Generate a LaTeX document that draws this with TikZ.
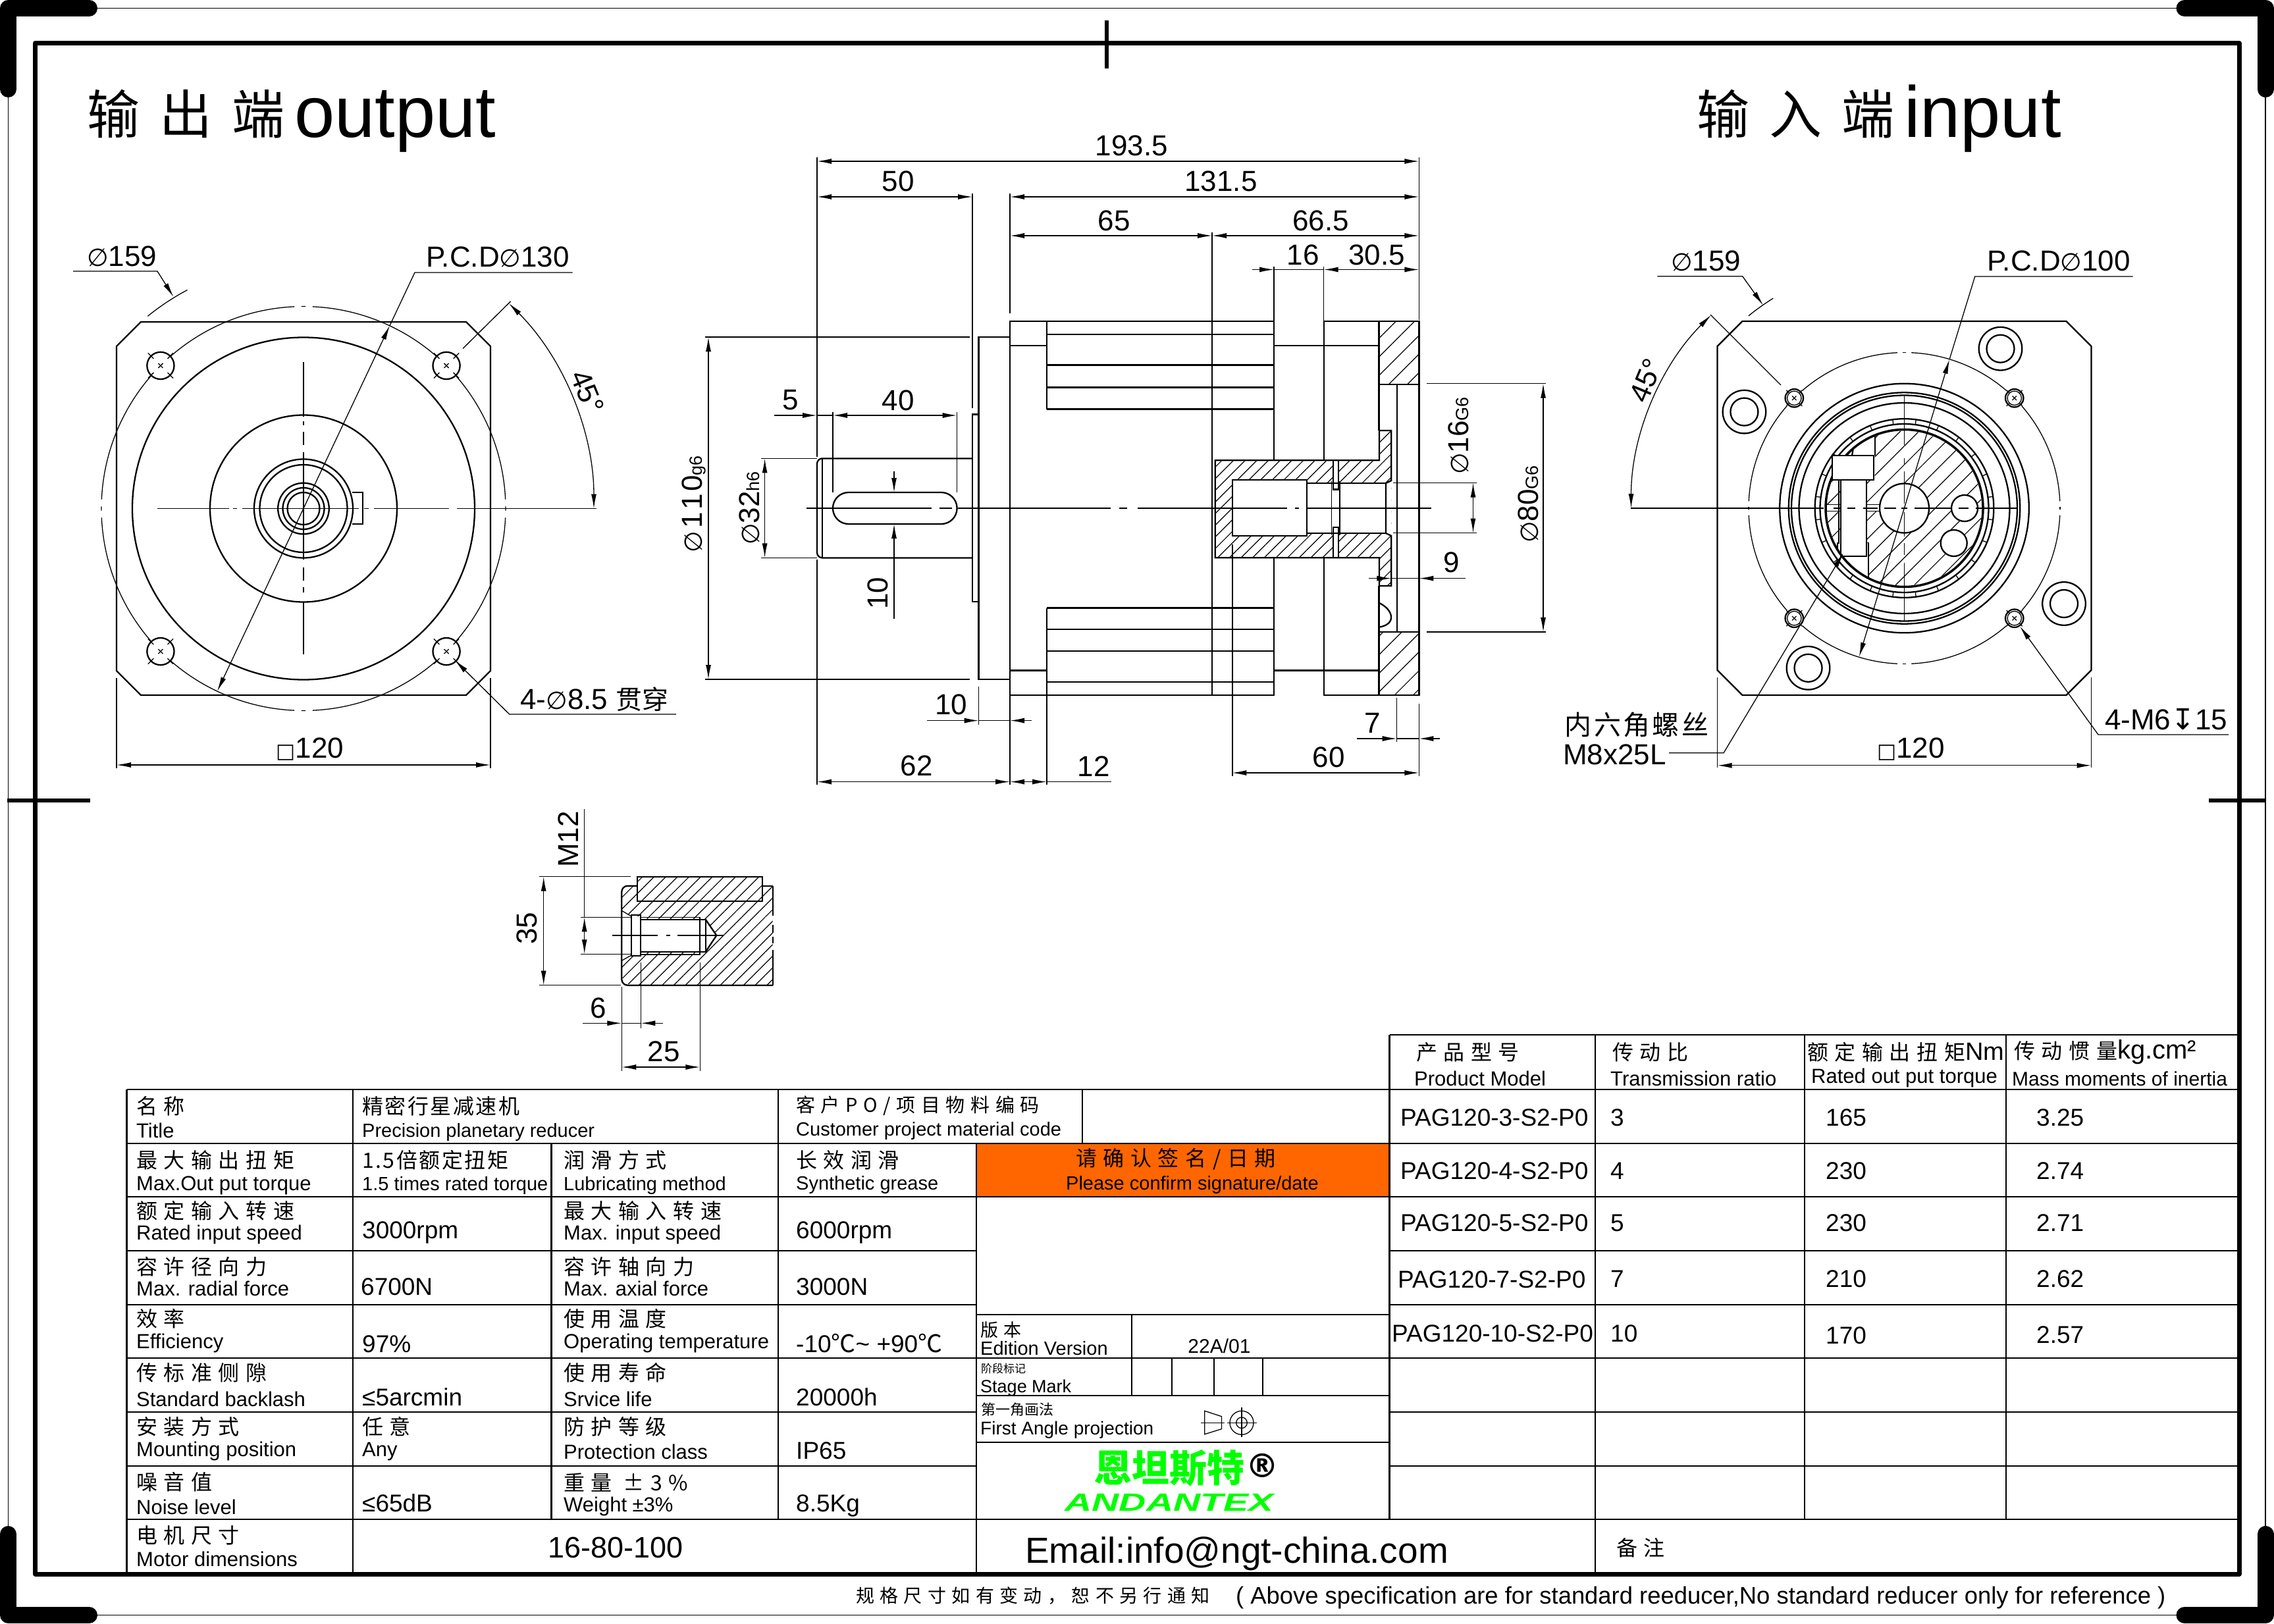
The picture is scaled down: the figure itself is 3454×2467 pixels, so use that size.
\documentclass[tikz,border=0pt]{standalone}
\usepackage{graphicx}
\usepackage{fontspec}
\setmainfont{Liberation Sans}
\newfontfamily\cjk{Noto Sans CJK SC}
\newfontfamily\cjkw[LetterSpace=30]{Noto Sans CJK SC}
\newfontfamily\cjkn[LetterSpace=8]{Noto Sans CJK SC}
\newfontfamily\cjkt[LetterSpace=38]{Noto Sans CJK SC}
\newfontfamily\sym{DejaVu Sans}
\usetikzlibrary{arrows.meta,patterns.meta}
\newcommand{\dia}{\scalebox{.85}{\sym ∅}}
\newcommand{\sqr}{\raisebox{.02em}{\scalebox{.7}{\sym □}}}
\newcommand{\dimfont}{\fontsize{44}{46}\selectfont}
\newcommand{\cnfont}{\fontsize{32}{34}\selectfont\cjkw}
\newcommand{\enfont}{\fontsize{31}{33}\selectfont}
\newcommand{\enS}{\fontsize{29}{31}\selectfont}
\newcommand{\valfont}{\fontsize{37}{39}\selectfont}
\newcommand{\subfont}{\fontsize{27}{28}\selectfont}
\definecolor{signorange}{RGB}{255,102,0}
\definecolor{logogreen}{RGB}{0,255,0}
\tikzset{
  heavy/.style={line width=2.3pt},
  fine/.style={line width=1.3pt},
  grid/.style={line width=2.4pt},
  dimline/.style={fine,>={Latex[length=22pt,width=8pt]}},
  hatch/.style={pattern={Lines[angle=45,distance=12.5pt,line width=1.2pt]}},
  hatchwide/.style={pattern={Lines[angle=45,distance=20pt,line width=1.2pt]}},
  dimtext/.style={inner sep=0pt,font=\dimfont},
  cntext/.style={anchor=west,inner sep=0pt,font=\cnfont},
  entext/.style={anchor=base west,inner sep=0pt,font=\enfont},
  valtext/.style={anchor=base west,inner sep=0pt,font=\valfont},
}
\begin{document}
\begin{tikzpicture}[x=1pt,y=-1pt]
\useasboundingbox (0,0) rectangle (3454,2467);
% sheet frame
\draw[fine] (12.5,12.5) rectangle (3441,2453.5);
\draw[line width=7pt,line join=round] (53.5,65.5) rectangle (3401,2391);
\foreach \cx/\cy/\sx/\sy in {12.5/12.5/1/1,3441/12.5/-1/1,12.5/2453.5/1/-1,3441/2453.5/-1/-1}
  \draw[line width=25pt,line cap=round,line join=round] (\cx,\cy+\sy*123) -- (\cx,\cy) -- (\cx+\sx*123,\cy);
\draw[line width=6pt] (1681,31) -- (1681,104);
\draw[line width=6pt] (11,1216) -- (137,1216);
\draw[line width=6pt] (3355,1216) -- (3441,1216);
% titles
\node[anchor=base west,inner sep=0pt,font=\fontsize{80}{82}\selectfont\cjkt] (titleoutcn) at (132,204) {输出端};
\node[anchor=base west,inner sep=0pt,font=\fontsize{110}{112}\selectfont] (titleout) at (447,209) {output};
\node[anchor=base west,inner sep=0pt,font=\fontsize{80}{82}\selectfont\cjkt] (titleincn) at (2577,204) {输入端};
\node[anchor=base west,inner sep=0pt,font=\fontsize{110}{112}\selectfont] (titlein) at (2892,209) {input};
% output view
\coordinate (oc) at (461,772.5);
\draw[heavy] (214,489) -- (708,489) -- (745,526) -- (745,1019) -- (708,1056) -- (214,1056) -- (177,1019) -- (177,526) -- cycle;
\foreach \r in {260,142,75,66.5,38.8,31.5,24.5} \draw[heavy] (oc) circle (\r);
\draw[heavy] (535,748) -- (551,748) -- (551,796) -- (535,796);
\foreach \q in {0,90,180,270}{
  \draw[fine] (oc) ++(\q+2.6:307) arc[start angle=\q+2.6,end angle=\q+41,radius=307];
  \draw[fine] (oc) ++(\q+49:307) arc[start angle=\q+49,end angle=\q+87.4,radius=307];
  \draw[fine] (oc) ++(\q-0.6:307) arc[start angle=\q-0.6,end angle=\q+0.6,radius=307];
}
\foreach \a in {45,135,225,315}{
  \path (oc) ++(\a:307) coordinate (oh\a);
  \draw[heavy] (oh\a) circle (20.6);
  \foreach \b in {0,90,180,270}{
    \draw[fine] (oh\a) -- ++(\a+\b:5);
    \draw[fine] (oh\a) ++(\a+\b:15) -- ++(\a+\b:12);
  }
}
\draw[fine] (oc) ++(-129:376) arc[start angle=-129,end angle=-118,radius=376];
\foreach \u/\v in {239/348,354/360,368/545,553/560,568/682,694/906} \draw[fine] (\u,772.5) -- (\v,772.5);
\foreach \u/\v in {550/633,640/646,656/676,687/850,862/882,892/900,914/994} \draw[fine] (461,\u) -- (461,\v);
% output dimensions
\draw[dimline,<->] (592,494.6) -- (330,1050);
\draw[fine] (869.5,414) -- (630,414) -- (592,494.6);
\draw[dimline,->] (111,412) -- (239,412) -- (263.6,451);
\draw[dimline,<->] (oc) ++(-45:441) arc[start angle=-45,end angle=0,radius=441];
\draw[fine] (703,529.5) -- (775.6,457.8);
\draw[dimline,->] (1027,1085) -- (773.7,1085) -- (690.9,1003);
\draw[dimline,<->] (177,1162) -- (745,1162);
\draw[fine] (177,1030) -- (177,1167);
\draw[fine] (745,1030) -- (745,1167);
\node[dimtext] (od1) at (185,389) {\dia 159};
\node[dimtext] (od2) at (756,390.6) {P.C.D\dia 130};
\node[dimtext,rotate=-67.5] (od3) at (892,595) {45°};
\node[dimtext] (od4) at (903,1062) {4-\dia 8.5 {\fontsize{40}{42}\selectfont\cjk 贯穿}};
\node[dimtext] (od5) at (471,1138) {\sqr 120};
% section view: shaft and flanges
\draw[heavy,rounded corners=8pt] (1477,696.4) -- (1241,696.4) -- (1241,847.4) -- (1477,847.4);
\draw[fine] (1249,696.4) -- (1249,847.4);
\draw[heavy,rounded corners=23.9pt] (1265,748) rectangle (1453.6,796);
\draw[heavy] (1477,629.4) rectangle (1486.6,913.7);
\draw[heavy] (1534,512) -- (1486.6,512) -- (1486.6,1032) -- (1534,1032);
% section view: housing
\draw[heavy] (1534,1056) -- (1534,488) -- (1935,488) -- (1935,699.3);
\draw[heavy] (1534,1056) -- (1935,1056) -- (1935,847.3);
\draw[heavy] (1590,488) -- (1590,621.6);
\draw[heavy] (1590,923.5) -- (1590,1056);
\draw[heavy] (1534,525) -- (1590,525);
\draw[heavy] (1534,1018.5) -- (1590,1018.5);
\foreach \ly in {507.7,554.6,588.4,621.6,923.5,956,989,1036} \draw[heavy] (1590,\ly) -- (1935,\ly);
\draw[heavy] (1841,488) -- (1841,1056);
\draw[heavy] (1935,525) -- (2094.6,525);
\draw[heavy] (1935,1018.5) -- (2094.6,1018.5);
\draw[heavy] (2010.7,699.3) -- (2010.7,488) -- (2155.4,488) -- (2155.4,1056) -- (2010.7,1056) -- (2010.7,847.3);
\draw[heavy] (2094.6,488) -- (2094.6,654);
\draw[heavy] (2094.6,890) -- (2094.6,1056);
\draw[heavy,hatchwide] (2094.6,488) rectangle (2155.4,584);
\draw[heavy,hatchwide] (2094.6,960) rectangle (2155.4,1056);
\draw[heavy] (2121.7,584) -- (2121.7,960);
\draw[heavy] (2095,916) .. controls (2116,926) and (2122,948) .. (2095,952.7);
% section view: hub
\path[hatch,even odd rule] (1845.7,699.3) -- (2095,699.3) -- (2095,654) -- (2113.3,654) -- (2113.3,890) -- (2095,890) -- (2095,847.3) -- (1845.7,847.3) -- cycle
  (1872,729.3) -- (1985.3,729.3) -- (1985.3,734) -- (2105,734) -- (2113.3,730) -- (2113.3,814) -- (2105,810) -- (1985.3,810) -- (1985.3,814.3) -- (1872,814.3) -- cycle;
\fill[white] (2025,699.3) rectangle (2032.7,847.3);
\draw[heavy] (1845.7,699.3) -- (2095,699.3) -- (2095,654) -- (2113.3,654) -- (2113.3,730) -- (2105,734) -- (2105,810) -- (2113.3,814) -- (2113.3,890) -- (2095,890) -- (2095,847.3) -- (1845.7,847.3) -- cycle;
\draw[heavy] (1872,729.3) rectangle (1985.3,814.3);
\draw[heavy] (1985.3,734) -- (2105,734);
\draw[heavy] (1985.3,810) -- (2105,810);
\draw[heavy] (2025,699.3) -- (2025,743.5) -- (2032.7,743.5) -- (2032.7,699.3);
\draw[heavy] (2025,847.3) -- (2025,800.7) -- (2032.7,800.7) -- (2032.7,847.3);
\draw[fine] (2022.7,731) -- (2022.7,813);
\draw[fine] (2035,731) -- (2035,813);
\foreach \u/\v in {1225/1415,1427/1446,1455/1687,1700/1712,1728/1955,1967/1973,1985/2174} \draw[fine] (\u,772) -- (\v,772);
% section view: dimensions
\draw[dimline,<->] (1241,245) -- (2155.4,245);
\draw[dimline,<->] (1241,299) -- (1477,299);
\draw[dimline,<->] (1534,299) -- (2155.4,299);
\draw[dimline,<->] (1534,358) -- (1841,358);
\draw[dimline,<->] (1841,358) -- (2155.4,358);
\draw[dimline,->] (1902,409.5) -- (1935,409.5);
\draw[fine] (1935,409.5) -- (2010.7,409.5);
\draw[dimline,<->] (2010.7,409.5) -- (2155.4,409.5);
\draw[dimline,<->] (1076,512) -- (1076,1032);
\draw[dimline,<->] (1161.6,696.4) -- (1161.6,847.4);
\draw[dimline,->] (1176,631) -- (1241,631);
\draw[fine] (1241,631) -- (1265,631);
\draw[dimline,<->] (1265,631) -- (1453.6,631);
\draw[dimline,->] (1358,716) -- (1358,748);
\draw[dimline,->] (1358,940) -- (1358,796);
\draw[dimline,->] (1408,1094.6) -- (1486.6,1094.6);
\draw[fine] (1486.6,1094.6) -- (1534,1094.6);
\draw[dimline,->] (1567,1094.6) -- (1534,1094.6);
\draw[dimline,<->] (1241,1187.6) -- (1534,1187.6);
\draw[dimline,<->] (1534,1187.6) -- (1590,1187.6);
\draw[fine] (1590,1187.6) -- (1687.5,1187.6);
\draw[dimline,<->] (1871.4,1174) -- (2155.4,1174);
\draw[dimline,->] (2060.7,1122) -- (2121.7,1122);
\draw[fine] (2121.7,1122) -- (2155.4,1122);
\draw[dimline,->] (2187,1122) -- (2155.4,1122);
\draw[dimline,->] (2078.6,878.6) -- (2113.3,878.6);
\draw[fine] (2113.3,878.6) -- (2155.4,878.6);
\draw[dimline,->] (2226,878.6) -- (2155.4,878.6);
\draw[dimline,<->] (2237.5,733.5) -- (2237.5,809.6);
\draw[dimline,<->] (2344,582.6) -- (2344,960);
\foreach \ax/\ay/\bx/\by in {1241/239/1241/694,1241/850/1241/1192,1477/294/1477/620,1534/294/1534/476,2155.4/239/2155.4/486,1841/353/1841/488,1935/405/1935/488,2010.7/405/2010.7/488,1071/512/1473/512,1071/1032/1473/1032,1156/696.4/1241/696.4,1156/847.4/1241/847.4,1265/626/1265/748,1453.6/626/1453.6/748,1486.6/1042.6/1486.6/1101,1534/1056/1534/1192,1590/1056/1590/1192,1872/827/1872/1179,2155.4/1068.6/2155.4/1179,2121.7/1060/2121.7/1127,2116/733.5/2243/733.5,2116/809.6/2243/809.6,2167/582.6/2348/582.6,2167/960/2348/960}
  \draw[fine] (\ax,\ay) -- (\bx,\by);
\foreach \tx/\ty/\txt in {1719/221/193.5,1364/275/50,1854.5/275/131.5,1692/335/65,2006/335/66.5,1979/387/16,2091/387/30.5,1201/608/5,1364/608/40,1444.6/1070/10,1392/1163/62,1661/1164/12,2018/1150/60,2085/1098/7,2205/854/9}
  \node[dimtext] (sd\tx) at (\tx,\ty) {\txt};
\node[dimtext,rotate=90] (sv1) at (1054,766) {\dia\hspace{.1em}1\hspace{.08em}1\hspace{.08em}0{\subfont g6}};
\node[dimtext,rotate=90] (sv2) at (1138,772) {\dia 32{\subfont h6}};
\node[dimtext,rotate=90] (sv3) at (1333,901) {10};
\node[dimtext,rotate=90] (sv4) at (2215,662) {\dia 16{\subfont G6}};
\node[dimtext,rotate=90] (sv5) at (2321,766) {\dia 80{\subfont G6}};
% input view
\coordinate (ic) at (2892.5,772);
\draw[heavy] (2646.5,488) -- (3138.5,488) -- (3176.5,526) -- (3176.5,1018) -- (3138.5,1056) -- (2646.5,1056) -- (2608.5,1018) -- (2608.5,526) -- cycle;
\foreach \hx/\hy in {3038.5/529.7,2649.4/625.6,3135/917,2746.5/1014.8}{
  \draw[heavy] (\hx,\hy) circle (32.8);
  \draw[heavy] (\hx,\hy) circle (21);
}
\foreach \q in {0,90,180,270}{
  \draw[fine] (ic) ++(\q+2.6:236.5) arc[start angle=\q+2.6,end angle=\q+41,radius=236.5];
  \draw[fine] (ic) ++(\q+49:236.5) arc[start angle=\q+49,end angle=\q+87.4,radius=236.5];
  \draw[fine] (ic) ++(\q-0.6:236.5) arc[start angle=\q-0.6,end angle=\q+0.6,radius=236.5];
}
\foreach \a in {45,135,225,315}{
  \path (ic) ++(\a:236.5) coordinate (ih\a);
  \draw[heavy] (ih\a) circle (13.7);
  \draw[fine] (ih\a) circle (10.7);
  \foreach \b in {0,90,180,270}{
    \draw[fine] (ih\a) -- ++(\a+\b:4.5);
    \draw[fine] (ih\a) ++(\a+\b:11) -- ++(\a+\b:6);
  }
}
\draw[fine] (ic) ++(-129:376) arc[start angle=-129,end angle=-122,radius=376];
\foreach \r in {189.3,175.7,171.5,160,135.8,128} \draw[heavy] (ic) circle (\r);
\foreach \k in {0,...,23} \draw[fine] (ic) ++(7.5+15*\k:128) -- ++(7.5+15*\k:7.8);
\begin{scope}
  \clip (ic) circle (117.5);
  \path[hatchwide,even odd rule] (2847.7,640) -- (3020,640) -- (3020,900) -- (2838.3,900) -- (2838.3,824.3) -- (2835,824.3) -- (2835,729.3) -- (2847.7,729.3) -- cycle
    (2892.5,772) circle (37.5) (2984,772) circle (20) (2967.7,825) circle (20);
  \path[hatchwide] (2760,729.3) rectangle (2795.7,824.3);
  \fill[white] (2755,766.7) rectangle (2795.7,776.7);
  \fill[white] (2835,766.7) rectangle (2856,776.7);
\end{scope}
\draw[line width=3.5pt] (ic) circle (119.5);
\draw[heavy] (ic) circle (37.5);
\draw[heavy] (2984,772) circle (20);
\draw[heavy] (2967.7,825) circle (20);
\draw[heavy] (2847.7,663) -- (2847.7,692.3);
\draw[heavy] (2813,692.3) -- (2815,680);
\draw[heavy,fill=white] (2783.3,692.3) rectangle (2845.7,729.3);
\draw[heavy] (2795.7,729.3) -- (2795.7,845) -- (2835,845) -- (2835,729.3);
\draw[fine] (2793,729.3) -- (2793,826);
\draw[heavy] (2838.3,824.3) -- (2838.3,876.7);
\draw[fine] (2835,824.3) -- (2838.3,824.3);
\draw[fine] (2791,824.3) -- (2791,835);
\foreach \u in {766.7,776.7} \draw[fine] (2775,\u) -- (2795.7,\u);
\foreach \u in {766.7,776.7} \draw[fine] (2835,\u) -- (2855,\u);
\foreach \u/\v in {2477/2770,2785/2795,2806/2818,2830/2852,2862/2880,2888/2897,2908/2965,2975/2990,3001/3065} \draw[fine] (\u,772) -- (\v,772);
\foreach \u/\v in {600/676,696/705,716/765,778/815,825/843,855/943} \draw[fine] (2892.5,\u) -- (2892.5,\v);
% input dimensions
\draw[dimline,<->] (2961,546) -- (2823.8,997.8);
\draw[fine] (3239.5,420) -- (2999.7,420) -- (2961,546);
\draw[dimline,->] (2517.4,419.7) -- (2646.7,419.7) -- (2678,463.6);
\draw[dimline,<->] (ic) ++(-135:415) arc[start angle=-135,end angle=-180,radius=415];
\draw[fine] (2705,585) -- (2598,478);
\draw[dimline,->] (2535,1143.8) -- (2618,1143.8) -- (2800,840);
\draw[dimline,->] (3385,1116) -- (3187,1116) -- (3068,951.4);
\draw[dimline,<->] (2608.5,1162.8) -- (3176.5,1162.8);
\draw[fine] (2608.5,1029) -- (2608.5,1166);
\draw[fine] (3176.5,1029) -- (3176.5,1166);
\node[dimtext] (id1) at (2591,396) {\dia 159};
\node[dimtext] (id2) at (3127,396) {P.C.D\dia 100};
\node[dimtext,rotate=67.5] (id3) at (2500,578) {45°};
\node[dimtext] (id4) at (3290,1093) {4-M6{\sym ↧}15};
\node[dimtext] (id5) at (2902.6,1138) {\sqr 120};
\node[inner sep=0pt,font=\fontsize{41}{43}\selectfont\cjkn] (id6) at (2486,1101.5) {内六角螺丝};
\node[dimtext] (id7) at (2452.5,1146) {M8x25L};
% shaft detail
\path[hatch,even odd rule] (944.3,1357) -- (956,1345.7) -- (967.7,1345.7) -- (967.7,1331.7) -- (1158.3,1331.7) -- (1158.3,1345.7) -- (1173.7,1345.7) -- (1173.7,1496.7) -- (956,1496.7) -- (944.3,1485) -- cycle
  (944.3,1383.3) -- (959,1392) -- (973.3,1392) -- (973.3,1396.7) -- (1071.7,1396.7) -- (1088.3,1421) -- (1071.7,1446) -- (973.3,1446) -- (973.3,1451) -- (959,1451) -- (944.3,1459.3) -- cycle;
\draw[heavy,rounded corners=9pt] (967.7,1345.7) -- (944.3,1345.7) -- (944.3,1496.7) -- (1173.7,1496.7);
\draw[heavy] (1158.3,1345.7) -- (1173.7,1345.7);
\foreach \u/\v in {1345.7/1390.7,1405/1417,1423/1433,1443/1496.7} \draw[heavy] (1173.7,\u) -- (1173.7,\v);
\draw[heavy] (967.7,1331.7) rectangle (1158.3,1369);
\draw[heavy] (973.3,1396.7) -- (1071.7,1396.7) -- (1071.7,1446) -- (973.3,1446);
\draw[heavy] (1062.7,1393.3) -- (1062.7,1450);
\draw[fine] (973.3,1393.3) -- (1063.5,1393.3);
\draw[fine] (973.3,1450) -- (1063.5,1450);
\draw[heavy] (1071.7,1396.7) -- (1088.3,1421) -- (1071.7,1446);
\draw[heavy] (959,1390) rectangle (973.3,1452.3);
\draw[fine] (944.3,1383.3) -- (959,1392);
\draw[fine] (944.3,1459.3) -- (959,1451);
\foreach \u/\v in {930/999.3,1011.7/1018.3,1029/1099} \draw[fine] (\u,1421) -- (\v,1421);
\draw[dimline,<->] (825.7,1331.7) -- (825.7,1496.7);
\draw[dimline,<->] (887.7,1393.3) -- (887.7,1449.3);
\draw[fine] (887.7,1229) -- (887.7,1393.3);
\draw[dimline,->] (885,1554.3) -- (944.3,1554.3);
\draw[fine] (944.3,1554.3) -- (973.3,1554.3);
\draw[dimline,->] (1006.7,1554.3) -- (973.3,1554.3);
\draw[dimline,<->] (944.3,1621) -- (1063.3,1621);
\foreach \ax/\ay/\bx/\by in {819.3/1331.7/958/1331.7,819.3/1496.7/942.7/1496.7,881.7/1393.3/960/1393.3,881.7/1449.3/960/1449.3,973.3/1461.7/973.3/1561.7,944.3/1499/944.3/1626.7,1063.3/1461.7/1063.3/1626.7}
  \draw[fine] (\ax,\ay) -- (\bx,\by);
\node[dimtext,rotate=90] (dt1) at (800,1410) {35};
\node[dimtext,rotate=90] (dt2) at (863,1275) {M12};
\node[dimtext] (dt3) at (909,1531) {6};
\node[dimtext] (dt4) at (1008,1597) {25};
% table grid
\fill[signorange] (1482,1737) rectangle (2110.5,1818);
\foreach \ly in {1655,1737,1818} \draw[grid] (192.6,\ly) -- (3401,\ly);
\foreach \ly in {1900,1982,2145,2227}{
  \draw[grid] (192.6,\ly) -- (1482,\ly);
  \draw[grid] (2110.5,\ly) -- (3401,\ly);
}
\foreach \ly in {2063,2308} \draw[grid] (192.6,\ly) -- (3401,\ly);
\draw[grid] (2110.5,1572) -- (3401,1572);
\foreach \ly in {1997,2120,2191} \draw[grid] (1482,\ly) -- (2110.5,\ly);
\draw[grid] (192.6,1655) -- (192.6,2391);
\draw[grid] (536,1655) -- (536,2391);
\draw[grid] (837.4,1737) -- (837.4,2308);
\draw[grid] (1181.7,1655) -- (1181.7,2308);
\draw[grid] (1483,1737) -- (1483,2391);
\draw[grid] (1644,1655) -- (1644,1737);
\draw[grid] (1719,1997) -- (1719,2120);
\foreach \lx in {1780,1844,1918} \draw[grid] (\lx,2063) -- (\lx,2120);
\foreach \lx in {2110.5,2422.7,2741,3047} \draw[grid] (\lx,1572) -- (\lx,2308);
\draw[grid] (2422.7,2308) -- (2422.7,2391);
% projection symbol
\draw[fine] (1829.8,2143.3) -- (1855.5,2151.7) -- (1855.5,2170.7) -- (1829.8,2178.7) -- cycle;
\draw[fine] (1824,2161.3) -- (1860.4,2161.3);
\draw[fine] (1886,2161.3) circle (18);
\draw[fine] (1886,2161.3) circle (8.3);
\draw[fine] (1863.7,2161.3) -- (1908.6,2161.3);
\draw[fine] (1886,2138) -- (1886,2183);
% table texts
\foreach \tx/\ty/\txt in {207/1680/名称,550/1680/\cjkn 精密行星减速机,1209/1680/{\fontsize{29}{30}\selectfont 客户PO/项目物料编码},207/1762/最大输出扭矩,550/1762/\cjkn 1.5倍额定扭矩,856/1762/润滑方式,1209/1762/长效润滑,207/1839/额定输入转速,856/1839/最大输入转速,207/1924/容许径向力,856/1924/容许轴向力,207/2003/效率,856/2003/使用温度,207/2085/传标准侧隙,856/2085/使用寿命,207/2167/安装方式,550/2167/任意,856/2167/防护等级,207/2251/噪音值,856/2252/重量 ±3\%,207/2332/电机尺寸,2151/1598/产品型号,2449/1598/传动比,2455/2351/备注}
  \node[cntext] (cn\tx-\ty) at (\tx,\ty) {\txt};
\foreach \tx/\ty/\txt in {207/1728/Title,550/1727/\enS Precision planetary reducer,1209/1725/\enS Customer project material code,207/1808/Max.Out put torque,550/1808/\enS 1.5 times rated torque,856/1808/\enS Lubricating method,1209/1807/\enS Synthetic grease,207/1883/Rated input speed,856/1883/Max. input speed,207/1968/Max. radial force,856/1968/Max. axial force,207/2048/Efficiency,856/2048/Operating temperature,207/2136/Standard backlash,856/2136/Srvice life,207/2212/Mounting position,550/2212/Any,856/2216/Protection class,207/2300/Noise level,856/2296/Weight ±3\%,207/2379/Motor dimensions,2148/1649/Product Model,2446/1649/Transmission ratio,2751/1645/Rated out put torque,3056/1649/{\fontsize{30}{32}\selectfont Mass moments of inertia},1489/2058/\enS Edition Version,1489/2115/{\fontsize{27}{29}\selectfont Stage Mark},1489/2179/{\fontsize{28}{30}\selectfont First Angle projection}}
  \node[entext] (en\tx-\ty) at (\tx,\ty) {\txt};
\foreach \tx/\ty/\txt in {550/1881/3000rpm,1209/1881/6000rpm,548/1967/6700N,1209/1967/3000N,550/2054/97\%,550/2135/≤5arcmin,1209/2135/20000h,1209/2216/IP65,550/2296/≤65dB,1209/2296/8.5Kg,2127/1710/PAG120-3-S2-P0,2127/1791/PAG120-4-S2-P0,2127/1870/PAG120-5-S2-P0,2123/1956/PAG120-7-S2-P0,2114/2038/PAG120-10-S2-P0,2446/1710/3,2446/1791/4,2446/1870/5,2446/1955/7,2446/2038/10,2773/1710/165,2773/1791/230,2773/1870/230,2773/1955/210,2773/2041/170,3093/1710/3.25,3093/1791/2.74,3093/1870/2.71,3093/1955/2.62,3093/2040/2.57}
  \node[valtext] (val\tx-\ty) at (\tx,\ty) {\txt};
\node[valtext] (tempval) at (1209,2054) {-10{\cjk ℃}\textasciitilde\ +90{\cjk ℃}};
\node[inner sep=0pt,font=\fontsize{45}{47}\selectfont] (motorval) at (935,2351) {16-80-100};
\node[cntext] (inertiacn) at (3059,1598) {传动惯量{\fontsize{40}{42}\selectfont\rmfamily kg.cm²}};
\node[cntext] (torquecn) at (2745,1598) {额定输出扭矩{\fontsize{38}{40}\selectfont\rmfamily Nm}};
\node[cntext,font=\fontsize{27}{29}\selectfont\cjkw] (vercn) at (1489,2020) {版本};
\node[cntext,font=\fontsize{17}{18}\selectfont\cjk] (stagecn) at (1490,2079) {阶段标记};
\node[cntext,font=\fontsize{22}{24}\selectfont\cjk] (anglecn) at (1490,2141) {第一角画法};
\node[inner sep=0pt,font=\fontsize{30}{32}\selectfont] (ver) at (1852,2045) {22A/01};
\node[cntext,anchor=center] (signcn) at (1786,1761) {请确认签名/日期};
\node[entext,anchor=base,font=\fontsize{29}{31}\selectfont] (signen) at (1811,1807) {Please confirm signature/date};
\node[anchor=base west,inner sep=0pt,font=\fontsize{55}{57}\selectfont] (email) at (1557,2374) {Email:info@ngt-china.com};
\node[cntext,font=\fontsize{28}{30}\selectfont\cjkw] (notecn) at (1300,2424) {规格尺寸如有变动，恕不另行通知};
\node[anchor=base west,inner sep=0pt,font=\fontsize{36.4}{38}\selectfont] (note) at (1877,2436) {( Above specification are for standard reeducer,No standard reducer only for reference )};
% logo
\node[inner sep=0pt,text=logogreen,font=\fontsize{57}{59}\selectfont\cjk\bfseries] (logocn) at (1776,2230) {恩坦斯特};
\node[inner sep=0pt,font=\fontsize{50}{52}\selectfont\sym\bfseries] (logor) at (1917.5,2226) {®};
\node[inner sep=0pt,text=logogreen,font=\fontsize{38}{40}\selectfont\bfseries\itshape] (logoen) at (1776,2282) {\scalebox{1.5}[1]{ANDANTEX}};
\end{tikzpicture}
\end{document}
